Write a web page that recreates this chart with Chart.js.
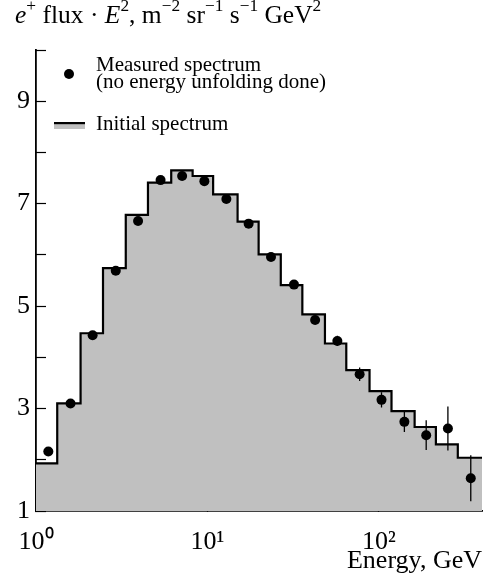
<!DOCTYPE html>
<html>
<head>
<meta charset="utf-8">
<script src="https://cdn.jsdelivr.net/npm/chart.js@4/dist/chart.umd.min.js"></script>
<style>
body { margin: 0; background: #fff; }
#wrap { position: relative; width: 487px; height: 577px; }
#ytitle { position: absolute; left: 15px; top: 0px; font: 25.5px "Liberation Serif", serif; white-space: nowrap; color: #000; }
#ytitle sup { font-size: 68%; line-height: 0; vertical-align: 0.7em; }
</style>
</head>
<body>
<div id="wrap">
<canvas id="chart" width="487" height="577"></canvas>
<div id="ytitle"><i>e</i><sup>+</sup> flux · <i>E</i><sup>2</sup>, m<sup>−2</sup> sr<sup>−1</sup> s<sup>−1</sup> GeV<sup>2</sup></div>
</div>
<script>
// Initial spectrum: bin edges (GeV) and level in each bin
const binEdges = [1, 1.33, 1.82, 2.46, 3.34, 4.5, 6.15, 8.2, 10.8, 15.0, 19.9, 26.8, 35.8, 48.5, 64.6, 88.3, 118.6, 161.8, 215.3, 289, 400];
const binLevels = [1.93, 3.10, 4.47, 5.74, 6.78, 7.41, 7.65, 7.54, 7.18, 6.65, 6.01, 5.41, 4.84, 4.27, 3.75, 3.34, 2.95, 2.64, 2.30, 2.04];

// Measured spectrum (no energy unfolding)
const measEnergy = [1.18, 1.59, 2.14, 2.92, 3.94, 5.33, 7.12, 9.6, 12.9, 17.4, 23.5, 32, 42.5, 57.3, 77.3, 103.7, 141, 189, 253, 344];
const measFlux = [2.16, 3.10, 4.43, 5.69, 6.66, 7.46, 7.54, 7.44, 7.09, 6.61, 5.96, 5.42, 4.73, 4.32, 3.67, 3.17, 2.74, 2.48, 2.61, 1.64];
const measErr = [0.03, 0.03, 0.03, 0.04, 0.04, 0.04, 0.04, 0.05, 0.05, 0.05, 0.06, 0.07, 0.08, 0.1, 0.13, 0.15, 0.2, 0.29, 0.43, 0.45];

// tick values
const xMajorTicks = [1, 10, 100];
const xMinorTicks = [2, 3, 4, 5, 6, 7, 8, 9, 20, 30, 40, 50, 60, 70, 80, 90, 200, 300];
const yTicks = [1, 2, 3, 4, 5, 6, 7, 8, 9, 10];
const yLabels = [1, 3, 5, 7, 9];
const supDigits = ['⁰', '¹', '²'];

const serif = '"Liberation Serif", serif';

// histogram as step line: the level of bin i runs from edge i to edge i+1
const histData = binEdges.map((e, i) => ({ x: e, y: binLevels[Math.min(i, binLevels.length - 1)] }));

const pointData = measEnergy.map((e, i) => ({ x: e, y: measFlux[i] }));

const errData = [];
measEnergy.forEach((e, i) => {
    errData.push({ x: e, y: measFlux[i] - measErr[i] });
    errData.push({ x: e, y: measFlux[i] + measErr[i] });
    errData.push({ x: e, y: null });
});

// legend drawn inside the plot
const legendPlugin = {
    id: 'insideLegend',
    afterDraw(chart) {
        const ctx = chart.ctx;
        ctx.save();
        ctx.fillStyle = '#000';
        ctx.beginPath();
        ctx.arc(69, 74, 5, 0, Math.PI * 2);
        ctx.fill();
        ctx.font = '21px ' + serif;
        ctx.textBaseline = 'alphabetic';
        ctx.fillText('Measured spectrum', 96, 71);
        ctx.fillText('(no energy unfolding done)', 96, 87.5);
        ctx.fillStyle = '#c0c0c0';
        ctx.fillRect(54, 124, 31, 5);
        ctx.fillStyle = '#000';
        ctx.fillRect(54, 122, 31, 2.2);
        ctx.fillText('Initial spectrum', 96, 130);
        ctx.restore();
    }
};

const noSidePad = (s) => { s.paddingLeft = 0; s.paddingRight = 0; };

new Chart(document.getElementById('chart'), {
    type: 'line',
    data: {
        datasets: [
            {
                label: 'Measured spectrum',
                data: pointData,
                showLine: false,
                pointRadius: 5,
                pointBackgroundColor: '#000',
                pointBorderWidth: 0,
                order: 0,
            },
            {
                label: 'errors',
                data: errData,
                borderColor: '#000',
                borderWidth: 1.3,
                pointRadius: 0,
                spanGaps: false,
                order: 1,
            },
            {
                label: 'Initial spectrum',
                data: histData,
                stepped: 'before',
                borderColor: '#000',
                borderWidth: 2.2,
                backgroundColor: '#c0c0c0',
                fill: 'start',
                pointRadius: 0,
                order: 2,
            },
        ],
    },
    options: {
        responsive: false,
        animation: false,
        devicePixelRatio: 1,
        layout: { padding: { top: 50, right: 4, left: 0, bottom: 0 } },
        plugins: {
            legend: { display: false },
            tooltip: { enabled: false },
        },
        scales: {
            xMinor: {
                type: 'logarithmic',
                position: 'bottom',
                min: 1,
                max: 400,
                weight: 0,
                afterBuildTicks: (s) => { s.ticks = xMinorTicks.map(v => ({ value: v })); },
                afterFit: (s) => { s.height = 0; noSidePad(s); },
                border: { display: false },
                grid: { drawOnChartArea: false, tickLength: -6, tickWidth: 1.2, tickColor: '#000' },
                ticks: { display: false },
            },
            x: {
                type: 'logarithmic',
                position: 'bottom',
                min: 1,
                max: 400,
                weight: 1,
                afterBuildTicks: (s) => { s.ticks = xMajorTicks.map(v => ({ value: v })); },
                afterFit: (s) => { s.height = 66; noSidePad(s); },
                border: { display: true, color: '#000', width: 1.8 },
                grid: { drawOnChartArea: false, tickLength: -10, tickWidth: 1.2, tickColor: '#000' },
                ticks: {
                    color: '#000',
                    font: { family: serif, size: 26 },
                    padding: 26,
                    maxRotation: 0,
                    autoSkip: false,
                    callback: (v) => '10' + supDigits[Math.round(Math.log10(v))],
                },
                title: {
                    display: true,
                    text: 'Energy, GeV',
                    align: 'end',
                    color: '#000',
                    font: { family: serif, size: 26 },
                    padding: { top: 0, bottom: 0 },
                },
            },
            y: {
                type: 'linear',
                min: 1,
                max: 10,
                afterBuildTicks: (s) => { s.ticks = yTicks.map(v => ({ value: v })); },
                afterFit: (s) => { s.width = 36; s.paddingTop = 0; s.paddingBottom = 0; },
                border: { display: true, color: '#000', width: 1.8 },
                grid: { drawOnChartArea: false, tickLength: -10, tickWidth: 1.2, tickColor: '#000' },
                ticks: {
                    color: '#000',
                    font: { family: serif, size: 26 },
                    padding: 16,
                    autoSkip: false,
                    callback: (v) => yLabels.includes(v) ? String(v) : '',
                },
            },
        },
    },
    plugins: [legendPlugin],
});
</script>
</body>
</html>
